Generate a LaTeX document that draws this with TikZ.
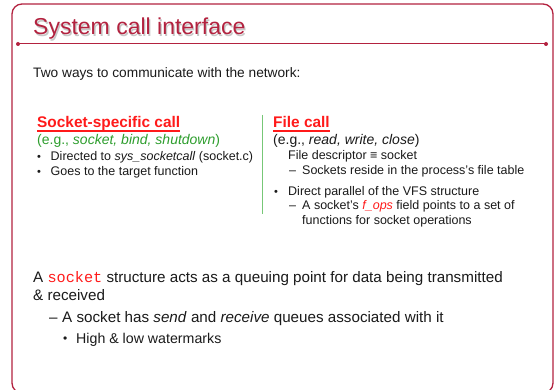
\documentclass[tikz,border=0pt]{standalone}
\usepackage{fontspec}
\setmainfont{Liberation Sans}
\setmonofont{Liberation Mono}
\definecolor{frame}{HTML}{B3223F}
\definecolor{hred}{HTML}{FF1A1A}
\definecolor{egreen}{HTML}{2E9E2E}
\definecolor{vgreen}{HTML}{77C777}
\definecolor{txt}{HTML}{1A1A1A}
\begin{document}
\begin{tikzpicture}[x=1pt,y=-1pt,
  txtnode/.style={inner sep=0pt,anchor=base west,text=txt,font=\fontsize{#1}{#1}\selectfont},
  txtnode/.default=12.5,
  bul/.style={txtnode=11},
  uline/.style={hred,line width=1.4pt}]
\useasboundingbox (0,0) rectangle (557,390);
\fill[white] (0,0) rectangle (557,390);
% frame
\draw[frame,line width=1.3pt,rounded corners=10pt] (12,4) rectangle (553,393);
% title
\node[txtnode=23,text=black!22] (titleshadow) at (34.3,36.3) {System call interface};
\node[txtnode=23,text=frame] (title) at (33,35) {System call interface};
\coordinate (rl) at (18,44);
\coordinate (rr) at (546,44);
\draw[frame,line width=1pt] (rl) -- (rr);
\fill[frame] (rl) circle (2pt) (rr) circle (2pt);
% intro
\node[txtnode=13.7] (intro) at (33,78) {Two ways to communicate with the network:};
% left column
\node[txtnode=15.4,text=hred] (lhead) at (37,128) {\bfseries Socket-specific call};
\draw[uline] ([yshift=-3pt]lhead.base west) -- ([yshift=-3pt]lhead.base east);
\node[txtnode=14,text=egreen] (leg) at (37,145) {(e.g., \emph{socket, bind, shutdown})};
\node[bul] (lb1) at (37,160.5) {\textbullet};
\node[txtnode] (l1) at (50.5,161) {Directed to \emph{sys\_socketcall} (socket.c)};
\node[bul] (lb2) at (37,175.5) {\textbullet};
\node[txtnode] (l2) at (50.5,176) {Goes to the target function};
% divider
\coordinate (vt) at (262,115);
\coordinate (vb) at (262,214);
\draw[vgreen,line width=1pt] (vt) -- (vb);
% right column
\node[txtnode=15.4,text=hred] (rhead) at (273,128) {\bfseries File call};
\draw[uline] ([yshift=-3pt]rhead.base west) -- ([yshift=-3pt]rhead.base east);
\node[txtnode=14] (reg) at (273,145) {(e.g., \emph{read, write, close})};
\node[txtnode] (r1) at (288,160) {File descriptor ≡ socket};
\node[txtnode] (rd1) at (289,175) {–};
\node[txtnode] (r2) at (302,175) {Sockets reside in the process’s file table};
\node[bul] (rb2) at (274,195.5) {\textbullet};
\node[txtnode] (r3) at (288,196) {Direct parallel of the VFS structure};
\node[txtnode] (rd2) at (289,210) {–};
\node[txtnode] (r4) at (302,210) {A socket’s \textcolor{hred}{\emph{f\_ops}} field points to a set of};
\node[txtnode] (r5) at (302,225) {functions for socket operations};
% bottom
\node[txtnode=15.2] (b1) at (33,282) {A \textcolor{hred}{\texttt{socket}} structure acts as a queuing point for data being transmitted};
\node[txtnode=15.2] (b2) at (33,300) {\& received};
\node[txtnode=15.2] (bd) at (49,322) {–};
\node[txtnode=15.2] (b3) at (62,322) {A socket has \emph{send} and \emph{receive} queues associated with it};
\node[txtnode=12] (bb) at (63,342.5) {\textbullet};
\node[txtnode=14.2] (b4) at (76,343) {High \& low watermarks};
\end{tikzpicture}
\end{document}
